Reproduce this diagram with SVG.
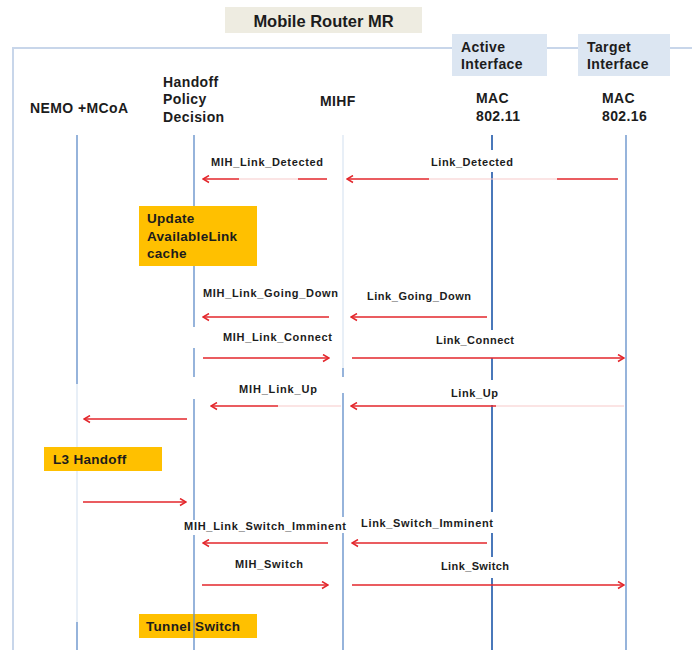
<svg xmlns="http://www.w3.org/2000/svg" width="692" height="650" viewBox="0 0 692 650">
  <style>
    text { font-family: "Liberation Sans", Arial, sans-serif; fill: #1c1c1c; font-weight: bold; }
    .hdr { font-size: 14px; letter-spacing: 0.4px; }
    .lbl { font-size: 11px; }
    .note { font-size: 13.5px; letter-spacing: 0.3px; }
    .frame { stroke: #C8D6EA; stroke-width: 2; fill: none; }
    .life { stroke: #5F8CC8; stroke-width: 1.3; fill: none; }
    .life-main { stroke: #4A78BA; stroke-width: 2; fill: none; }
    .faint { stroke: #DCE7F3; stroke-width: 1.3; fill: none; }
    .msg { stroke: #E3262B; stroke-width: 1.5; fill: none; }
    .fade { stroke: #F7CACA; stroke-width: 1.2; fill: none; }
    .yellow { fill: #FFC000; }
    .iface { fill: #DCE6F2; }
  </style>
  <defs>
    <marker id="arrow" markerUnits="userSpaceOnUse" markerWidth="9" markerHeight="9" viewBox="0 0 9 9" refX="8" refY="4.5" orient="auto">
      <path d="M2,1 L8,4.5 L2,8" stroke="#E3262B" stroke-width="1.5" fill="none"/>
    </marker>
  </defs>

  <rect width="692" height="650" fill="#FFFFFF"/>

  <!-- enclosing frame of the mobile router -->
  <g id="frame">
    <path class="frame" d="M13,650 V48 H692"/>
  </g>

  <g id="title">
    <rect x="225" y="7" width="197" height="26" fill="#EEECE1"/>
    <text x="323.5" y="26.5" text-anchor="middle" font-size="16.5">Mobile Router MR</text>
  </g>

  <g id="active-interface">
    <rect class="iface" x="452" y="34" width="95" height="42"/>
    <text class="hdr" x="461" y="52">Active</text>
    <text class="hdr" x="461" y="69">Interface</text>
  </g>

  <g id="target-interface">
    <rect class="iface" x="578" y="34" width="92" height="42"/>
    <text class="hdr" x="587" y="52">Target</text>
    <text class="hdr" x="587" y="69">Interface</text>
  </g>

  <!-- participants with their lifelines -->
  <g id="nemo">
    <text class="hdr" x="30" y="113">NEMO +MCoA</text>
    <path class="life" d="M77,135 V384 M77,622 V650"/>
    <path class="faint" d="M77,384 V622"/>
  </g>

  <g id="handoff-policy">
    <text class="hdr" x="163" y="87">Handoff</text>
    <text class="hdr" x="163" y="104">Policy</text>
    <text class="hdr" x="163" y="122">Decision</text>
    <path class="life" d="M194,135 V206 M194,266 V327 M194,348 V377 M194,399 V520 M194,535 V650"/>
  </g>

  <g id="mihf">
    <text class="hdr" x="320" y="106">MIHF</text>
    <path class="faint" d="M343,135 V368"/>
    <path class="life" d="M343,368 V377 M343,393 V517 M343,533 V650"/>
  </g>

  <g id="mac-80211">
    <text class="hdr" x="476" y="103">MAC</text>
    <text class="hdr" x="476" y="121">802.11</text>
    <path class="life-main" d="M492,135 V150 M492,172 V330 M492,358 V380 M492,405 V512 M492,533 V557 M492,578 V650"/>
  </g>

  <g id="mac-80216">
    <text class="hdr" x="602" y="103">MAC</text>
    <text class="hdr" x="602" y="121">802.16</text>
    <path class="life" d="M626,135 V650"/>
  </g>

  <!-- local actions -->
  <g id="update-cache">
    <rect class="yellow" x="139" y="206" width="118" height="60"/>
    <text class="note" x="147" y="223">Update</text>
    <text class="note" x="147" y="241">AvailableLink</text>
    <text class="note" x="147" y="258">cache</text>
  </g>

  <g id="l3-handoff">
    <rect class="yellow" x="44" y="447" width="118" height="24"/>
    <text class="note" x="53" y="463.5">L3 Handoff</text>
  </g>

  <g id="tunnel-switch">
    <rect class="yellow" x="139" y="614" width="118" height="24"/>
    <text class="note" x="146" y="630.5">Tunnel Switch</text>
  </g>
  <!-- the policy lifeline runs over the tunnel switch note -->
  <path class="life" d="M194,614 V638"/>

  <!-- messages -->
  <g id="connectors">
    <!-- Link_Detected -->
    <path class="msg" d="M239,179 H203" marker-end="url(#arrow)"/>
    <path class="fade" d="M298,179 H239"/>
    <path class="msg" d="M327,179 H298"/>
    <text class="lbl" x="211" y="166" textLength="112" lengthAdjust="spacing">MIH_Link_Detected</text>
    <path class="msg" d="M429,179 H347" marker-end="url(#arrow)"/>
    <path class="fade" d="M557,179 H429"/>
    <path class="msg" d="M618,179 H557"/>
    <text class="lbl" x="431" y="166" textLength="82" lengthAdjust="spacing">Link_Detected</text>

    <!-- Link_Going_Down -->
    <path class="msg" d="M329,317 H203" marker-end="url(#arrow)"/>
    <text class="lbl" x="203" y="297" textLength="135" lengthAdjust="spacing">MIH_Link_Going_Down</text>
    <path class="msg" d="M487,317 H351" marker-end="url(#arrow)"/>
    <text class="lbl" x="367" y="300" textLength="104" lengthAdjust="spacing">Link_Going_Down</text>

    <!-- Link_Connect -->
    <path class="msg" d="M203,358 H329" marker-end="url(#arrow)"/>
    <text class="lbl" x="223" y="341" textLength="109" lengthAdjust="spacing">MIH_Link_Connect</text>
    <path class="msg" d="M352,358 H624" marker-end="url(#arrow)"/>
    <text class="lbl" x="436" y="344" textLength="78" lengthAdjust="spacing">Link_Connect</text>

    <!-- Link_Up -->
    <path class="msg" d="M278,406 H211" marker-end="url(#arrow)"/>
    <path class="fade" d="M341,406 H278"/>
    <text class="lbl" x="239" y="393" textLength="78" lengthAdjust="spacing">MIH_Link_Up</text>
    <path class="msg" d="M496,406 H351" marker-end="url(#arrow)"/>
    <path class="fade" d="M624,406 H496"/>
    <text class="lbl" x="451" y="397" textLength="47" lengthAdjust="spacing">Link_Up</text>

    <!-- L3 handoff trigger and completion -->
    <path class="msg" d="M187,419 H84" marker-end="url(#arrow)"/>
    <path class="msg" d="M83,502 H186" marker-end="url(#arrow)"/>

    <!-- Link_Switch_Imminent -->
    <path class="msg" d="M328,543 H203" marker-end="url(#arrow)"/>
    <text class="lbl" x="184" y="530" textLength="162" lengthAdjust="spacing">MIH_Link_Switch_Imminent</text>
    <path class="msg" d="M487,543 H352" marker-end="url(#arrow)"/>
    <text class="lbl" x="361" y="527" textLength="132" lengthAdjust="spacing">Link_Switch_Imminent</text>

    <!-- Link_Switch -->
    <path class="msg" d="M202,585 H328" marker-end="url(#arrow)"/>
    <text class="lbl" x="235" y="568" textLength="68" lengthAdjust="spacing">MIH_Switch</text>
    <path class="msg" d="M352,585 H624" marker-end="url(#arrow)"/>
    <text class="lbl" x="441" y="570" textLength="68" lengthAdjust="spacing">Link_Switch</text>
  </g>
</svg>
